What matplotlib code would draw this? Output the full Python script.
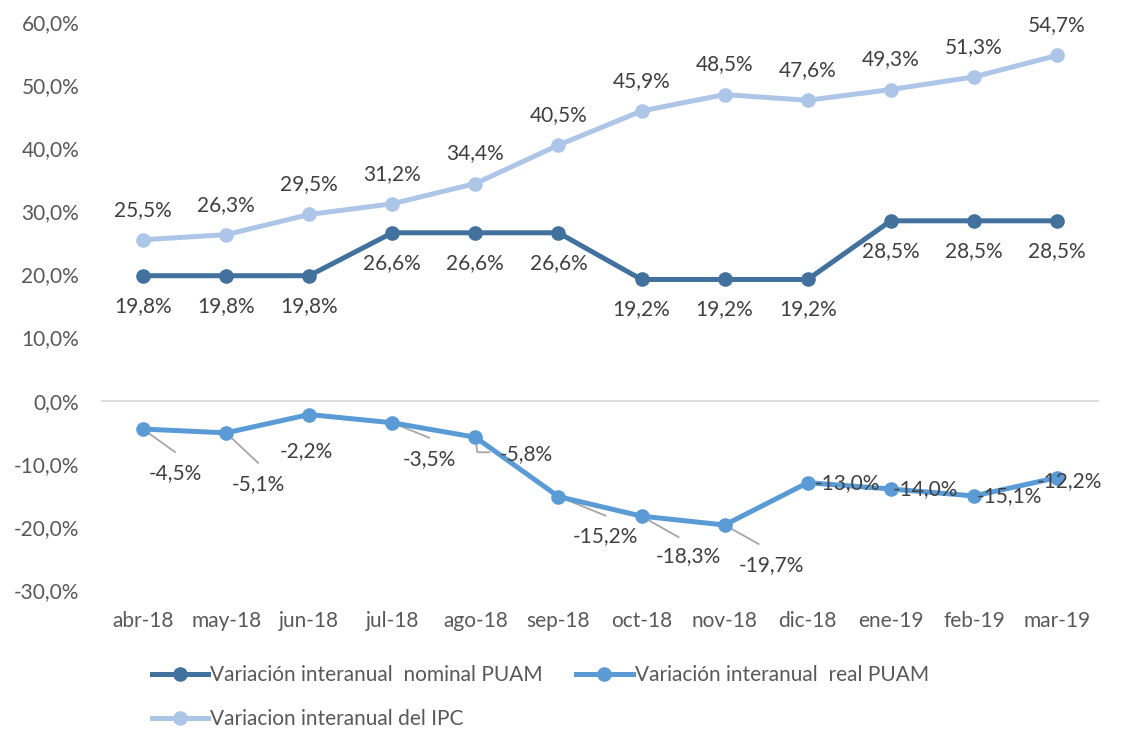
import matplotlib
matplotlib.use('Agg')
import matplotlib.pyplot as plt
import numpy as np

plt.rcParams['font.family'] = ['Lato', 'DejaVu Sans']

meses = ['abr-18', 'may-18', 'jun-18', 'jul-18', 'ago-18', 'sep-18',
         'oct-18', 'nov-18', 'dic-18', 'ene-19', 'feb-19', 'mar-19']
nominal = [19.8, 19.8, 19.8, 26.6, 26.6, 26.6, 19.2, 19.2, 19.2, 28.5, 28.5, 28.5]
real = [-4.5, -5.1, -2.2, -3.5, -5.8, -15.2, -18.3, -19.7, -13.0, -14.0, -15.1, -12.2]
ipc = [25.5, 26.3, 29.5, 31.2, 34.4, 40.5, 45.9, 48.5, 47.6, 49.3, 51.3, 54.7]

c_nom = '#41719C'
c_real = '#5B9BD5'
c_ipc = '#ADC5E7'
txt = '#404040'
fs = 15

def fmt(v):
    return ('%.1f%%' % v).replace('.', ',')

fig = plt.figure(figsize=(11.26, 7.29), dpi=100)
ax = fig.add_axes([0.0901, 0.1907, 0.8855, 0.7791])
x = np.arange(len(meses))

ax.set_xlim(-0.5, len(meses) - 0.5)
ax.set_ylim(-30, 60)

l1, = ax.plot(x, nominal, '-o', color=c_nom, lw=3.6, ms=9.5, label='Variación interanual  nominal PUAM', zorder=3)
l2, = ax.plot(x, real, '-o', color=c_real, lw=3.6, ms=9.5, label='Variación interanual  real PUAM', zorder=3)
l3, = ax.plot(x, ipc, '-o', color=c_ipc, lw=3.6, ms=9.5, label='Variacion interanual del IPC', zorder=3)

for i in range(len(x)):
    ax.annotate(fmt(ipc[i]), (x[i], ipc[i]), xytext=(0, 30), textcoords='offset pixels',
                ha='center', va='center', fontsize=fs, color=txt)
    ax.annotate(fmt(nominal[i]), (x[i], nominal[i]), xytext=(0, -30), textcoords='offset pixels',
                ha='center', va='center', fontsize=fs, color=txt)

# label offsets (pixels) for the real series, and where the leader line ends
real_off = [(32, -44), (32, -51), (-3, -37), (37, -36), (51, -17), (47, -40),
            (47, -40), (47, -40), (40, 0), (35, 0), (36, 0), (12, -3)]
real_line = [(32, -23), (32, -30), None, (37, -15), 'elbow', (47, -19),
             (37, -21), (34, -19), None, None, None, None]
fig.canvas.draw()
for i in range(len(x)):
    ox, oy = real_off[i]
    ax.annotate(fmt(real[i]), (x[i], real[i]), xytext=(ox, oy), textcoords='offset pixels',
                ha='center', va='center', fontsize=fs, color=txt, zorder=4)
    ln = real_line[i]
    if ln is None:
        continue
    disp = ax.transData.transform((x[i], real[i]))
    inv = ax.transData.inverted()
    if ln == 'elbow':
        pts = [disp, disp + np.array([2, -15]), disp + np.array([14, -15])]
    else:
        pts = [disp, disp + np.array(ln)]
    pts = inv.transform(np.array(pts))
    ax.plot(pts[:, 0], pts[:, 1], color='#A6A6A6', lw=1.3, zorder=2)

ax.set_yticks(np.arange(-30, 61, 10))
ax.set_yticklabels([fmt(v) for v in np.arange(-30, 61, 10)])
ax.set_xticks(x)
ax.set_xticklabels(meses)
ax.tick_params(axis='y', length=0, pad=16, labelsize=fs, labelcolor='#595959')
ax.tick_params(axis='x', length=0, pad=15, labelsize=fs, labelcolor='#595959')
for s in ax.spines.values():
    s.set_visible(False)
ax.axhline(0, color='#D9D9D9', lw=1.2, zorder=1)

fig.legend(handles=[l1, l3, l2], labels=[l1.get_label(), l3.get_label(), l2.get_label()],
           ncol=2, loc='upper left', bbox_to_anchor=(0.135, 0.088), frameon=False,
           fontsize=fs, labelcolor='#595959', handlelength=2.7, handletextpad=0.1,
           columnspacing=1.6, labelspacing=1.15, borderaxespad=0, borderpad=0)

fig.savefig('out.png', dpi=100)
